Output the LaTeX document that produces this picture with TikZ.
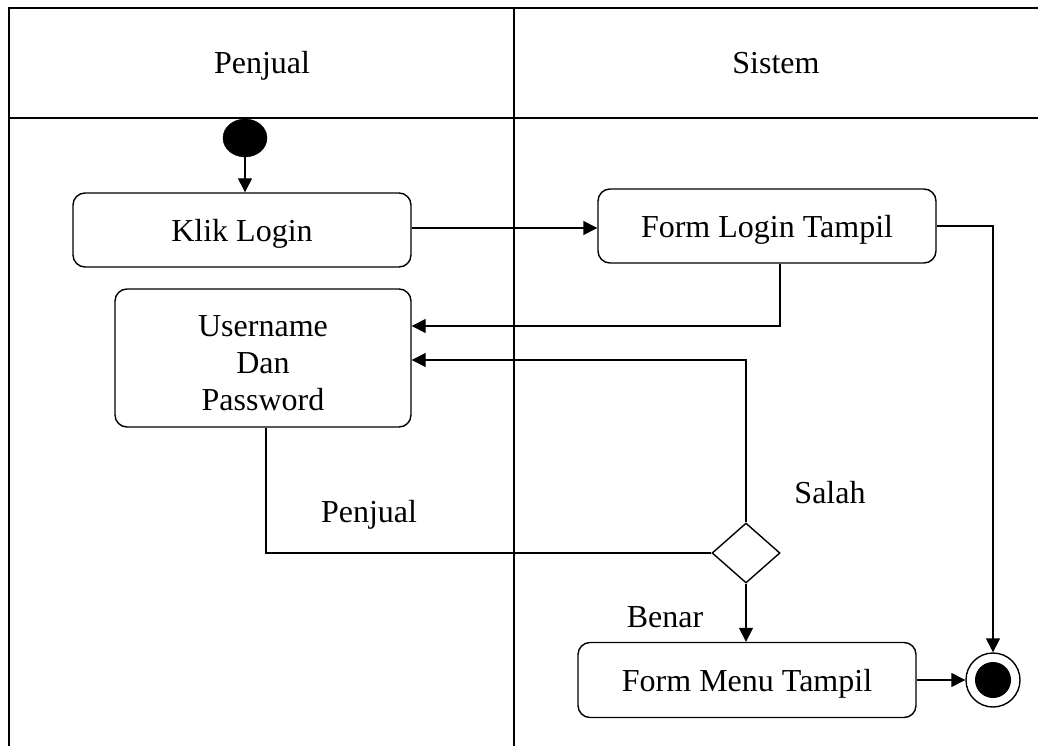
\documentclass[tikz,border=0pt]{standalone}
\usepackage{fontspec}
\setmainfont{Liberation Serif}
\usetikzlibrary{shapes.geometric,arrows.meta}
\tikzset{
  lane/.style={line width=2pt},
  conn/.style={line width=1.4pt},
  arr/.style={conn,-{Triangle[length=14pt,width=14pt]}},
  txt/.style={font=\fontsize{32}{37}\selectfont, inner sep=0pt, align=center},
  oneline/.style={txt, text height=22pt, text depth=0pt},
  actbox/.style={draw, line width=1.4pt, rounded corners=12pt},
}
\begin{document}
\begin{tikzpicture}[x=1pt,y=-1pt]
\useasboundingbox (0,0) rectangle (1038,746);
% swimlanes
\draw[lane] (9,746) -- (9,8) -- (1038,8);
\draw[lane] (9,118) -- (1038,118);
\draw[lane] (514,8) -- (514,746);
\node[oneline] (hpenjual) at (262,63) {Penjual};
\node[oneline] (hsistem) at (776,63) {Sistem};
% nodes
\node[draw, fill=black, ellipse, minimum width=44pt, minimum height=38pt, inner sep=0pt] (start) at (245,138) {};
\node[oneline, actbox, minimum width=338pt, minimum height=74pt] (klik) at (242,230) {Klik Login};
\node[oneline, actbox, minimum width=338pt, minimum height=74pt] (flogin) at (767,226) {Form Login Tampil};
\node[txt, actbox, minimum width=296pt, minimum height=138pt] (user) at (263,358) {\rule{0pt}{32pt}Username\\Dan\\Password};
\node[draw, diamond, line width=1.4pt, minimum width=68pt, minimum height=60pt, inner sep=0pt] (dia) at (746,553) {};
\node[oneline, actbox, minimum width=338pt, minimum height=75pt] (menu) at (747,680) {Form Menu Tampil};
\node[draw, circle, line width=1.4pt, minimum size=54pt, inner sep=0pt] (final) at (993,680) {};
\fill (final.center) circle (18pt);
\coordinate (c1) at (780,326);
\coordinate (c2) at (746,360);
% connectors
\draw[arr] (start.south) -- (start.south |- klik.north);
\draw[arr] ([yshift=2pt]klik.east) -- ([yshift=2pt]klik.east -| flogin.west);
\draw[arr] (flogin.east) -| (final.north);
\draw[arr] (flogin.south -| c1) -- (c1) -- (c1 -| user.east);
\draw[arr] (dia.north) -- (c2) -- (c2 -| user.east);
\draw[conn] ([xshift=3pt]user.south) |- (dia.west);
\draw[arr] (dia.south) -- (dia.south |- menu.north);
\draw[arr] (menu.east) -- (final.west);
% labels
\node[oneline] (lpenjual) at (369,511) {Penjual};
\node[oneline] (lsalah) at (830,492) {Salah};
\node[oneline] (lbenar) at (665,616) {Benar};
\end{tikzpicture}
\end{document}
